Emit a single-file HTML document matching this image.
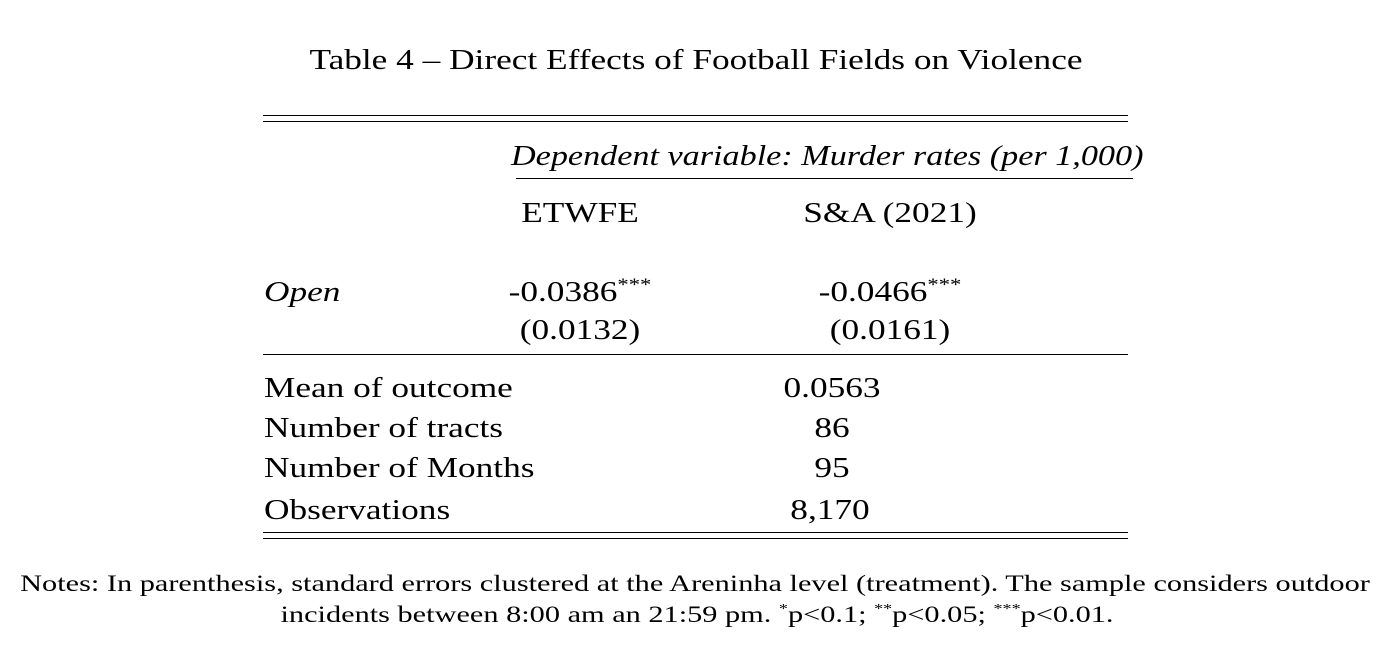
<!DOCTYPE html>
<html><head><meta charset="utf-8"><style>
body{margin:0;width:1386px;height:650px;background:#fff;font-family:"Liberation Serif",serif;color:#000;position:relative;overflow:hidden}
.t{position:absolute;white-space:nowrap;line-height:1;font-size:28px;transform:scaleX(1.26);transform-origin:0 0}
.c{transform:translateX(-50%) scaleX(1.26);transform-origin:50% 0}
.r{position:absolute;height:1.3px;background:#000}
sup{font-size:18px;line-height:0}
.n{font-size:23.5px;transform:translateX(-50%) scaleX(1.29)}
</style></head><body>
<div class="t c" style="left:696px;top:47px">Table 4 – Direct Effects of Football Fields on Violence</div>
<div class="r" style="left:263px;width:865px;top:115px"></div>
<div class="r" style="left:263px;width:865px;top:121px"></div>
<div class="t" style="left:511px;top:143px;font-style:italic;transform:scaleX(1.22)">Dependent variable: Murder rates (per 1,000)</div>
<div class="r" style="left:516px;width:617px;top:178px;height:1px"></div>
<div class="t c" style="left:580px;top:200px">ETWFE</div>
<div class="t c" style="left:890px;top:200px">S&amp;A (2021)</div>
<div class="t" style="left:264px;top:279px;font-style:italic">Open</div>
<div class="t c" style="left:580px;top:279px">-0.0386<sup>***</sup></div>
<div class="t c" style="left:890px;top:279px">-0.0466<sup>***</sup></div>
<div class="t c" style="left:580px;top:317px">(0.0132)</div>
<div class="t c" style="left:890px;top:317px">(0.0161)</div>
<div class="r" style="left:263px;width:865px;top:354px;height:1px"></div>
<div class="t" style="left:264px;top:375px">Mean of outcome</div>
<div class="t" style="left:264px;top:415px">Number of tracts</div>
<div class="t" style="left:264px;top:455px">Number of Months</div>
<div class="t" style="left:264px;top:497px">Observations</div>
<div class="t c" style="left:832px;top:375px">0.0563</div>
<div class="t c" style="left:832px;top:415px">86</div>
<div class="t c" style="left:832px;top:455px">95</div>
<div class="t c" style="left:830px;top:497px">8,170</div>
<div class="r" style="left:263px;width:865px;top:532px"></div>
<div class="r" style="left:263px;width:865px;top:538px"></div>
<div class="t c n" style="left:695px;top:573px">Notes: In parenthesis, standard errors clustered at the Areninha level (treatment). The sample considers outdoor</div>
<div class="t c n" style="left:697px;top:604px">incidents between 8:00 am an 21:59 pm. <sup style="font-size:14px">*</sup>p&lt;0.1; <sup style="font-size:14px">**</sup>p&lt;0.05; <sup style="font-size:14px">***</sup>p&lt;0.01.</div>
</body></html>
